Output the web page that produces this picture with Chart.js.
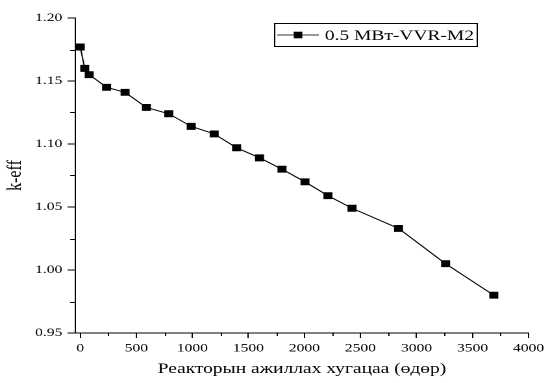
<!DOCTYPE html>
<html>
<head>
<meta charset="utf-8">
<script src="https://cdn.jsdelivr.net/npm/chart.js@4.4.0/dist/chart.umd.min.js"></script>
<style>
  html, body { margin: 0; padding: 0; background: #fff; overflow: hidden; }
  /* the source figure is stretched sideways, so draw narrow and widen */
  #wrap { width: 422px; height: 383px; transform: scaleX(1.2986); transform-origin: 0 0; }
</style>
</head>
<body>
<div id="wrap"><canvas id="keffChart"></canvas></div>
<script>
const days = [0, 40, 80, 235, 400, 590, 790, 990, 1195, 1395, 1600, 1800, 2005, 2210, 2425, 2840, 3260, 3690];
const keff = [1.177, 1.160, 1.155, 1.145, 1.141, 1.129, 1.124, 1.114, 1.108, 1.097, 1.089, 1.080, 1.070, 1.059, 1.049, 1.033, 1.005, 0.980];
const xTicks = [0, 500, 1000, 1500, 2000, 2500, 3000, 3500, 4000];
const yTicks = [0.95, 1.00, 1.05, 1.10, 1.15, 1.20];
const seriesLabel = "0.5 MBт-VVR-M2";
const xTitle = "Реакторын ажиллах хугацаа (өдөр)";
const yTitle = "k-eff";

const serif = "'Liberation Serif', 'Times New Roman', serif";

// small ticks half way between the labelled ones
const minorTicks = {
    id: "minorTicks",
    afterDraw(chart) {
        const { ctx, scales } = chart;
        const x = scales.x, y = scales.y;
        ctx.save();
        ctx.strokeStyle = "#000";
        ctx.lineWidth = 1;
        ctx.beginPath();
        for (let i = 0; i < xTicks.length - 1; i++) {
            const px = Math.round(x.getPixelForValue((xTicks[i] + xTicks[i + 1]) / 2)) + 0.5;
            ctx.moveTo(px, x.top);
            ctx.lineTo(px, x.top + 3);
        }
        for (let i = 0; i < yTicks.length - 1; i++) {
            const py = Math.round(y.getPixelForValue((yTicks[i] + yTicks[i + 1]) / 2)) + 0.5;
            ctx.moveTo(y.right, py);
            ctx.lineTo(y.right - 4, py);
        }
        ctx.stroke();
        ctx.restore();
    },
};

// boxed legend sitting inside the plot, top right
const boxLegend = {
    id: "boxLegend",
    afterDraw(chart) {
        const { ctx, chartArea } = chart;
        const ds = chart.data.datasets[0];
        ctx.save();
        ctx.font = "15px " + serif;
        const tw = ctx.measureText(ds.label).width;
        const right = chartArea.right - 40;
        const top = chartArea.top + 5;
        const h = 23;
        const left = right - (2.5 + 32 + 4.6 + tw + 2);
        ctx.strokeStyle = "#000";
        ctx.lineWidth = 1;
        ctx.strokeRect(Math.round(left) + 0.5, top + 0.5, Math.round(right - left), h);
        const cy = top + h / 2 + 0.5;
        const lx = left + 2.5;
        ctx.strokeStyle = "#333";
        ctx.beginPath();
        ctx.moveTo(lx, cy);
        ctx.lineTo(lx + 32, cy);
        ctx.stroke();
        ctx.fillStyle = "#000";
        ctx.fillRect(lx + 16 - 3.3, cy - 3.3, 6.6, 6.6);
        ctx.textBaseline = "middle";
        ctx.fillText(ds.label, lx + 32 + 4.6, cy + 1);
        ctx.restore();
    },
};

new Chart(document.getElementById("keffChart"), {
    type: "line",
    data: {
        datasets: [
            {
                label: seriesLabel,
                data: days.map((d, i) => ({ x: d, y: keff[i] })),
                borderColor: "#000",
                backgroundColor: "#000",
                borderWidth: 1,
                pointStyle: "rect",
                pointRadius: 4.2,
                pointBorderWidth: 1,
                pointBackgroundColor: "#000",
                pointBorderColor: "#000",
                tension: 0,
            },
        ],
    },
    options: {
        responsive: true,
        maintainAspectRatio: false,
        animation: false,
        devicePixelRatio: 2,
        layout: { padding: { top: 18, right: 11, left: 0, bottom: 0 } },
        plugins: {
            legend: { display: false },
            tooltip: { enabled: false },
        },
        scales: {
            x: {
                type: "linear",
                min: -44,
                max: 4000,
                afterBuildTicks: (scale) => {
                    scale.ticks = xTicks.map((v) => ({ value: v }));
                },
                afterFit: (scale) => {
                    scale.height = 50;
                },
                grid: {
                    drawOnChartArea: false,
                    tickLength: 5,
                    tickColor: "#000",
                    color: "#000",
                },
                border: { display: true, color: "#000", width: 1 },
                ticks: {
                    color: "#000",
                    padding: 3,
                    maxRotation: 0,
                    font: { family: serif, size: 12 },
                    callback: (v) => String(v),
                },
                title: {
                    display: true,
                    text: xTitle,
                    color: "#000",
                    font: { family: serif, size: 15 },
                    padding: { top: 0, bottom: 5 },
                },
            },
            y: {
                min: 0.95,
                max: 1.2,
                afterBuildTicks: (scale) => {
                    scale.ticks = yTicks.map((v) => ({ value: v }));
                },
                afterFit: (scale) => {
                    scale.width = 58;
                },
                grid: {
                    drawOnChartArea: false,
                    tickLength: 6,
                    tickColor: "#000",
                    color: "#000",
                },
                border: { display: true, color: "#000", width: 1 },
                ticks: {
                    color: "#000",
                    padding: 4,
                    font: { family: serif, size: 12 },
                    callback: (v) => v.toFixed(2),
                },
                title: {
                    display: true,
                    text: yTitle,
                    color: "#000",
                    font: { family: serif, size: 16 },
                    padding: { top: 2, bottom: 0 },
                },
            },
        },
    },
    plugins: [minorTicks, boxLegend],
});
</script>
</body>
</html>
